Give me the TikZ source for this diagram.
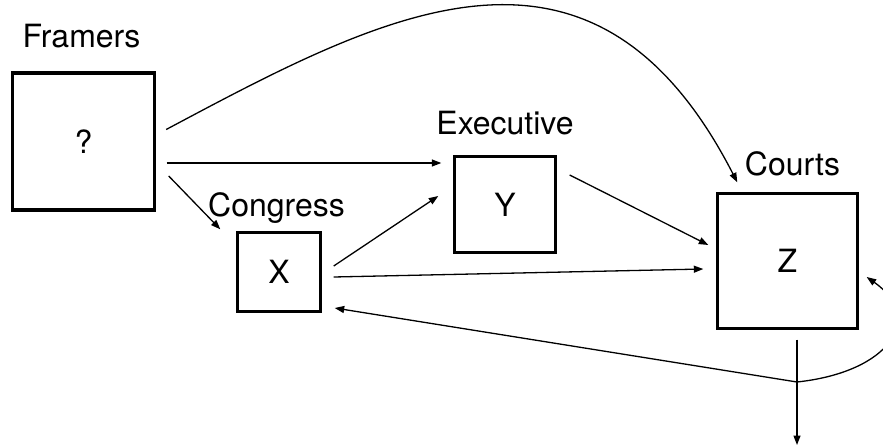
\documentclass[tikz,border=0pt]{standalone}
\usepackage{fontspec}
\setmainfont{TeX Gyre Heros}
\usetikzlibrary{calc,arrows.meta}
\begin{document}
\begin{tikzpicture}[x=1pt,y=-1pt,
  box/.style={draw,line width=3.4pt,inner sep=0pt,font=\fontsize{32}{36}\selectfont},
  lbl/.style={inner sep=0pt,anchor=base,font=\fontsize{32}{36}\selectfont},
  arr/.style={line width=1.3pt,-{Triangle[length=9.5pt,width=7pt]}},
  ln/.style={line width=1.3pt}]
\useasboundingbox (0,0) rectangle (883,447);
\clip (0,0) rectangle (883,447);
\fill[white] (0,0) rectangle (883,447);
% boxes
\node[box,minimum width=142pt,minimum height=137pt] (fr) at (83.5,141.5) {?};
\node[box,minimum width=83pt,minimum height=79pt] (cg) at (279,272) {X};
\node[box,minimum width=101pt,minimum height=96pt] (ex) at (505,204.5) {Y};
\node[box,minimum width=140pt,minimum height=135pt] (co) at (787.5,261) {Z};
% labels
\node[lbl] (lfr) at (81.5,47) {Framers};
\node[lbl] (lcg) at (276.5,216) {Congress};
\node[lbl] (lex) at (505,134) {Executive};
\node[lbl] (lco) at (792.5,175) {Courts};
% helper coordinates
\coordinate (j) at (797,382);
\coordinate (out) at (797,445);
% connectors
\draw[arr] ($(fr.east)+(10,-12)$) .. controls (385,13) and (593,-99) .. ($(co.north west)+(21.5,-9.5)$);
\draw[arr] ($(fr.east)+(10.5,21.5)$) -- ($(ex.west)+(-11.5,-41.5)$);
\draw[arr] ($(fr.east)+(12.5,34.5)$) -- ($(cg.north west)+(-15.5,-1.5)$);
\draw[arr] ($(cg.east)+(11.5,-6)$) -- ($(ex.west)+(-14.5,-8.5)$);
\draw[arr] ($(cg.east)+(11.5,5)$) -- ($(co.west)+(-12.5,8)$);
\draw[arr] ($(ex.east)+(12.5,-29.5)$) -- ($(co.west)+(-7.5,-16)$);
\draw[arr] ($(co.south)+(9.5,9.5)$) -- (out);
\draw[arr] (j) -- ($(cg.east)+(12.5,36)$);
\draw[arr] (j) .. controls (890,372) and (925,318) .. ($(co.east)+(7.5,16)$);
\end{tikzpicture}
\end{document}
